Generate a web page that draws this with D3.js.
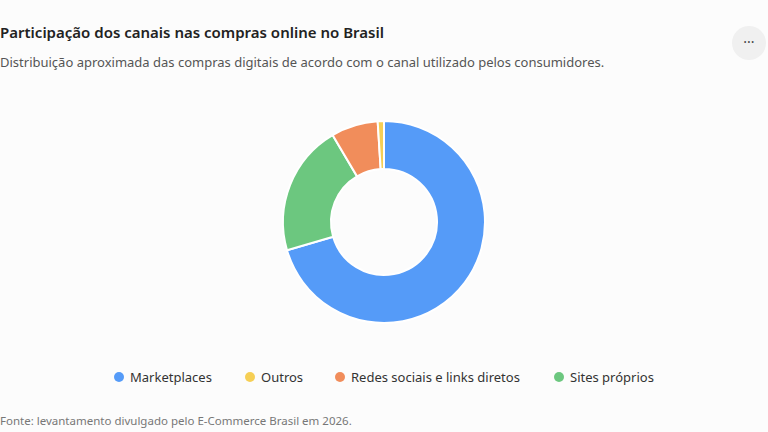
<!DOCTYPE html>
<html>
<head>
<meta charset="utf-8">
<script src="https://cdn.jsdelivr.net/npm/d3@7"></script>
<style>
  body { margin:0; background:#fcfcfc; font-family:"Noto Sans", sans-serif; }
</style>
</head>
<body>
<svg id="chart" width="768" height="432"></svg>
<script>
var categories = ["Marketplaces", "Sites próprios", "Redes sociais e links diretos", "Outros"];
var values = [70.5, 21, 7.5, 1];
var colors = ["#559bf8", "#6cc77f", "#f18d5b", "#f6cf55"];
var legendOrder = ["Marketplaces", "Outros", "Redes sociais e links diretos", "Sites próprios"];

var svg = d3.select("#chart");
svg.append("text").attr("x", 0).attr("y", 38).attr("font-size", 15).attr("font-weight", 600)
  .attr("fill", "#222").text("Participação dos canais nas compras online no Brasil");
svg.append("text").attr("x", 0).attr("y", 67).attr("font-size", 13).attr("fill", "#555")
  .text("Distribuição aproximada das compras digitais de acordo com o canal utilizado pelos consumidores.");
svg.append("circle").attr("cx", 749).attr("cy", 43).attr("r", 17).attr("fill", "#f0f0f0");
svg.append("text").attr("x", 749).attr("y", 47).attr("text-anchor", "middle").attr("font-size", 14)
  .attr("fill", "#444").text("···");

var data = categories.map(function(c, i) { return {name: c, value: values[i], color: colors[i]}; });
var pie = d3.pie().sort(null).value(function(d) { return d.value; });
var arc = d3.arc().innerRadius(53).outerRadius(101);
var g = svg.append("g").attr("transform", "translate(384,222)");
g.selectAll("path").data(pie(data)).join("path")
  .attr("d", arc).attr("fill", function(d) { return d.data.color; })
  .attr("stroke", "#fff").attr("stroke-width", 2);

var xs = [114, 245, 335, 554];
var lg = svg.append("g");
legendOrder.forEach(function(name, i) {
  var c = colors[categories.indexOf(name)];
  lg.append("circle").attr("cx", xs[i] + 5).attr("cy", 377).attr("r", 5).attr("fill", c);
  lg.append("text").attr("x", xs[i] + 16).attr("y", 382).attr("font-size", 13).attr("fill", "#333").text(name);
});

svg.append("text").attr("x", 0).attr("y", 425).attr("font-size", 11.5).attr("fill", "#777")
  .text("Fonte: levantamento divulgado pelo E-Commerce Brasil em 2026.");
</script>
</body>
</html>
